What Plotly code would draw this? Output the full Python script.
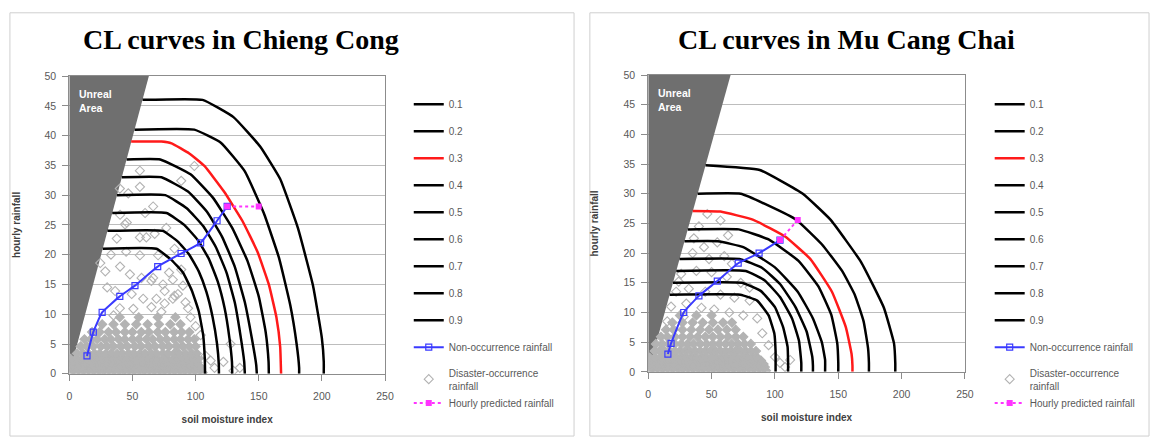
import plotly.graph_objects as go

# ---------------- data ----------------
levels = ["0.1", "0.2", "0.3", "0.4", "0.5", "0.6", "0.7", "0.8", "0.9"]
x_ticks = [0, 50, 100, 150, 200, 250]
y_ticks = [0, 5, 10, 15, 20, 25, 30, 35, 40, 45, 50]

# ---- Chieng Cong: CL curves (soil moisture index, hourly rainfall) ----
cc01_x = [58, 105.5, 130, 151, 167, 181, 193, 200, 201.5, 201.5]
cc01_y = [46, 46, 43.1, 38.2, 32.7, 24.5, 14.8, 6, 2, 0]
cc02_x = [51.7, 99, 120, 139, 154, 166, 175, 180, 182, 182]
cc02_y = [41, 41, 38.8, 34, 27, 19.5, 11.5, 5, 1, 0]
cc03_x = [49, 73, 81, 95, 107, 122.5, 137, 149, 158, 164, 167, 167.7]
cc03_y = [39, 39, 38.7, 37, 34.9, 30.6, 25.7, 20.5, 15, 9.5, 4.5, 0]
cc04_x = [45.4, 72, 96, 114, 129, 141, 150, 155.5, 157.8, 158]
cc04_y = [36, 36, 33.5, 29.5, 24.5, 19, 13, 7, 2, 0]
cc05_x = [41.6, 73, 94, 109, 121, 131, 139, 144.5, 148, 148.5]
cc05_y = [33, 33, 30.6, 27.2, 23, 18, 12, 6, 1.5, 0]
cc06_x = [37.8, 76, 93, 106, 116, 124.5, 131, 135.5, 138.5, 139]
cc06_y = [30, 30, 27.8, 24.8, 21.3, 17, 12, 6.5, 2, 0]
cc07_x = [34, 77, 91, 102, 110.5, 117.5, 123, 126.8, 128.8, 129]
cc07_y = [27, 27, 25, 22.4, 19.3, 15.5, 11, 6, 2, 0]
cc08_x = [30.2, 74, 86, 95, 102.5, 108.5, 113.5, 117, 118.4, 118.5]
cc08_y = [24, 24, 22.2, 20, 17.2, 13.8, 9.5, 5, 1.5, 0]
cc09_x = [26.5, 69, 81, 90, 97, 102.5, 106, 107.3, 107.5]
cc09_y = [21, 21, 19.1, 17, 14, 10.5, 6.5, 2.5, 0]

cc_non_x = [14, 19, 26, 40, 52, 70, 88.5, 104, 117, 125]
cc_non_y = [3, 7, 10.3, 13, 14.8, 18, 20.2, 22, 25.7, 28.1]
cc_pred_x = [125, 150]
cc_pred_y = [28.1, 28.1]

cc_unreal_x = [0, 0, 63, 0]
cc_unreal_y = [0, 50, 50, 0]

cc_dis_x = [45.5, 55.9, 67.6, 55.9, 28.5, 40.2, 48, 57.2, 65, 74.2, 69, 58.5, 49.4,
            75.5, 82, 86, 50.7, 40, 65, 72.9, 36.3, 24.5, 88.6, 55.9, 99, 88.6, 55.9,
            66.4, 40.2, 44.1, 76.8, 37.6, 61, 83.3, 70.3, 66.4, 82, 75.5, 83.3, 46.7,
            40, 33, 45, 92, 96, 100, 104, 60, 30, 35, 79, 90, 94, 112, 127.7, 115,
            122, 130, 135, 108]
cc_dis_y = [25.4, 22.9, 23.5, 19.9, 17.2, 18, 16.7, 16.1, 15.6, 15, 12.6, 12.6, 13.4,
            11.8, 12.6, 13.4, 10.9, 11, 11.2, 10.4, 13.9, 18.6, 17.5, 34.1, 34.9, 32.4,
            31.4, 28.1, 26.7, 25.1, 24.5, 22.7, 22.9, 21, 19.9, 16.1, 15.8, 13.9, 13.1,
            30.3, 31.1, 20, 20.5, 12, 9.5, 8, 6.5, 27, 14.5, 9.8, 17, 14.8, 11, 2.2, 5,
            1, 2, 0.5, 1, 3]
# dense cloud of overlapping disaster points near the origin, read row by row
cc_cloud_row_y = [0.2, 0.8, 1.3, 1.9, 2.5, 3.4, 4.6, 5.8, 7.0, 8.3, 9.5]
cc_cloud_row_x = [
    [1.5, 5, 9.5, 13, 17.5, 21, 25.5, 29, 33.5, 37, 41.5, 45, 49.5, 53, 57.5, 61, 65.5,
     69, 73.5, 77, 81.5, 85, 89.5, 93, 97.5, 101, 105.5],
    [3.5, 8, 12, 16, 20, 24.5, 28, 32, 36, 40.5, 44, 48, 52, 56.5, 60, 64, 68, 72.5, 76,
     80, 84, 88.5, 92, 96, 100, 104],
    [3, 7.5, 11, 15.5, 19, 23.5, 27, 31.5, 35, 39.5, 43, 47.5, 51, 55.5, 59, 63.5, 67,
     71.5, 75, 79.5, 83, 87.5, 91, 95.5, 99, 103],
    [2, 6, 10.5, 14.5, 18, 22.5, 26, 30.5, 34, 38.5, 42, 46.5, 50, 54.5, 58, 62.5, 66,
     70.5, 74, 78.5, 82, 86.5, 90, 94.5, 98, 101.5],
    [1, 5.5, 10, 14, 18.5, 22, 26.5, 30, 34.5, 38, 42.5, 46, 50.5, 54, 58.5, 62, 66.5,
     70, 74.5, 78, 82.5, 86, 90.5, 94, 98.5, 102],
    [6, 11, 15, 20, 24, 29, 33, 38, 42, 47, 51, 56, 60, 65, 69, 74, 78, 83, 87, 92, 97,
     101],
    [9, 14, 19, 25, 30, 35, 41, 46, 52, 57, 63, 68, 74, 79, 85, 90, 95, 100],
    [12, 17, 22, 28, 33, 39, 44, 50, 55, 61, 66, 72, 77, 83, 88, 94, 99],
    [18, 24, 31, 37, 44, 50, 57, 63, 70, 76, 83, 89, 95],
    [26, 35, 44, 53, 62, 71, 80, 88],
    [40, 55, 70, 84],
]

# ---- Mu Cang Chai ----
mc01_x = [45.2, 88, 122, 144, 168, 186, 194, 195, 195]
mc01_y = [34.8, 34, 30, 25.6, 18.5, 10.8, 4.8, 1.5, 0]
mc02_x = [39, 73, 95, 117, 137, 153, 163, 170, 173.5, 174.2, 174.2]
mc02_y = [30, 30, 28, 25.6, 21.5, 17, 13, 8.5, 4, 1.5, 0]
mc03_x = [35.1, 57, 83, 108, 128, 145, 156, 160.5, 161.2, 161.2]
mc03_y = [27.1, 27, 25.6, 22.8, 19, 13.5, 7.5, 3, 1, 0]
mc04_x = [31.2, 71.4, 95, 118.6, 134.3, 144.5, 149.2, 150, 150]
mc04_y = [24, 24, 22.3, 18.7, 14.4, 9.6, 4.8, 1.5, 0]
mc05_x = [28.6, 55, 75, 100, 118, 130, 137, 139.6, 139.6]
mc05_y = [22, 22, 21, 17.6, 13.5, 9, 5, 2, 0]
mc06_x = [24.7, 72, 90, 104, 116, 125, 129.5, 130, 130]
mc06_y = [19, 19, 17.5, 14.8, 11, 6.8, 2.5, 1, 0]
mc07_x = [22.1, 77, 92, 104, 113.5, 119, 120.8, 120.8]
mc07_y = [17, 17, 15.4, 12.6, 9, 5.2, 1.5, 0]
mc08_x = [19.5, 74, 89, 100, 106.5, 110, 110.4, 110.4]
mc08_y = [15, 15, 13.6, 10.9, 7.5, 4.2, 1.5, 0]
mc09_x = [16.9, 72.7, 86, 95, 99.5, 100.5, 100.5]
mc09_y = [13, 13, 12, 9.5, 6.5, 3.5, 0]

mc_non_x = [15.5, 18, 28, 40, 54.5, 71, 87.5, 104]
mc_non_y = [3, 4.8, 10, 12.8, 15.3, 18.3, 20, 22.2]
mc_pred_x = [104, 118]
mc_pred_y = [22.2, 25.6]

mc_unreal_x = [0, 0, 65, 0]
mc_unreal_y = [0, 50, 50, 0]

mc_dis_x = [46.6, 57, 54.5, 40, 63, 35, 48, 60, 26, 38, 50, 62, 73, 22, 32, 45, 57, 68,
            80, 18, 30, 42, 52, 64, 75, 86, 15, 28, 90, 95, 100, 104, 108, 112, 80, 44,
            66, 24, 36]
mc_dis_y = [26.6, 25.5, 21.8, 24.5, 23, 20, 19, 19.5, 16.5, 17, 16.8, 16, 15, 13.5, 14,
            13.5, 13, 12.5, 12, 11, 11.5, 10.8, 10.5, 10, 9.5, 9, 8.5, 9.3, 6.5, 4.5,
            2.5, 1.5, 0.8, 2, 14.2, 21, 18.2, 15.2, 22.5]
mc_cloud_row_y = [0.2, 0.8, 1.3, 1.9, 2.4, 3.5, 4.7, 5.9, 7.1, 8.3, 9.5]
mc_cloud_row_x = [
    [1.5, 5, 9.5, 13, 17.5, 21, 25.5, 29, 33.5, 37, 41.5, 45, 49.5, 53, 57.5, 61, 65.5,
     69, 73.5, 77, 81.5, 85, 89.5, 93],
    [3.5, 8, 12, 16, 20, 24.5, 28, 32, 36, 40.5, 44, 48, 52, 56.5, 60, 64, 68, 72.5, 76,
     80, 84, 88.5, 92],
    [3, 7.5, 11, 15.5, 19, 23.5, 27, 31.5, 35, 39.5, 43, 47.5, 51, 55.5, 59, 63.5, 67,
     71.5, 75, 79.5, 83, 87.5, 91],
    [2, 6, 10.5, 14.5, 18, 22.5, 26, 30.5, 34, 38.5, 42, 46.5, 50, 54.5, 58, 62.5, 66,
     70.5, 74, 78.5, 82, 86.5, 89],
    [1, 5.5, 10, 14, 18.5, 22, 26.5, 30, 34.5, 38, 42.5, 46, 50.5, 54, 58.5, 62, 66.5,
     70, 74.5, 78, 82.5, 86],
    [5, 9, 13, 17, 21, 25, 29, 33, 37, 41, 45, 49, 53, 57, 61, 65, 69, 73, 77, 81, 85],
    [6, 11, 16, 21, 26, 31, 36, 41, 46, 51, 56, 61, 66, 71, 76, 81],
    [10, 15, 21, 27, 33, 39, 45, 51, 57, 63, 69, 75],
    [14, 20, 27, 34, 41, 48, 55, 62, 69],
    [19, 27, 35, 43, 51, 59, 66],
    [25, 38, 50],
]

# ---------------- figure ----------------
W, H = 1161, 444
BLACK = "#000000"
RED = "#ff1a1a"
BLUE = "#3a3aff"
MAGENTA = "#ff33ff"
GRAY_PTS = "#b3b3b3"
UNREAL = "#6f6f6f"
TXT = "#595959"
FONT = "Liberation Sans"

fig = go.Figure()

panels = [
    dict(xa="x", ya="y", legend="legend", legend_b="legend3",
         curves=[(cc01_x, cc01_y), (cc02_x, cc02_y), (cc03_x, cc03_y), (cc04_x, cc04_y),
                 (cc05_x, cc05_y), (cc06_x, cc06_y), (cc07_x, cc07_y), (cc08_x, cc08_y),
                 (cc09_x, cc09_y)],
         non=(cc_non_x, cc_non_y), pred=(cc_pred_x, cc_pred_y),
         unreal=(cc_unreal_x, cc_unreal_y), dis=(cc_dis_x, cc_dis_y),
         cloud=(cc_cloud_row_y, cc_cloud_row_x), tag="cc"),
    dict(xa="x2", ya="y2", legend="legend2", legend_b="legend4",
         curves=[(mc01_x, mc01_y), (mc02_x, mc02_y), (mc03_x, mc03_y), (mc04_x, mc04_y),
                 (mc05_x, mc05_y), (mc06_x, mc06_y), (mc07_x, mc07_y), (mc08_x, mc08_y),
                 (mc09_x, mc09_y)],
         non=(mc_non_x, mc_non_y), pred=(mc_pred_x, mc_pred_y),
         unreal=(mc_unreal_x, mc_unreal_y), dis=(mc_dis_x, mc_dis_y),
         cloud=(mc_cloud_row_y, mc_cloud_row_x), tag="mc"),
]

for p in panels:
    tag = p["tag"]
    # unreal area
    fig.add_trace(go.Scatter(
        x=p["unreal"][0], y=p["unreal"][1], xaxis=p["xa"], yaxis=p["ya"],
        mode="lines", fill="toself", fillcolor=UNREAL, line=dict(width=0, color=UNREAL),
        showlegend=False, hoverinfo="skip"))
    # disaster-occurrence rainfall points (isolated ones first, then the dense cloud)
    dx = list(p["dis"][0])
    dy = list(p["dis"][1])
    sym = ["diamond-open"] * len(dx)
    for ry, rxs in zip(p["cloud"][0], p["cloud"][1]):
        dx += rxs
        dy += [ry] * len(rxs)
        sym += ["diamond"] * len(rxs)
    fig.add_trace(go.Scatter(
        x=dx, y=dy, xaxis=p["xa"], yaxis=p["ya"], mode="markers",
        name="Disaster-occurrence<br>rainfall", legend=p["legend"],
        legendgroup=tag + "dis", legendrank=11,
        marker=dict(symbol=sym, size=7, color=GRAY_PTS,
                    line=dict(width=1.1, color=GRAY_PTS))))
    # CL curves
    for i, (cx, cy) in enumerate(p["curves"]):
        col = RED if levels[i] == "0.3" else BLACK
        fig.add_trace(go.Scatter(
            x=cx, y=cy, xaxis=p["xa"], yaxis=p["ya"], mode="lines",
            name=levels[i], legend=p["legend"], legendgroup=tag + levels[i],
            legendrank=i + 1,
            line=dict(color=col, width=2.5, shape="spline", smoothing=0.35)))
    # non-occurrence rainfall
    fig.add_trace(go.Scatter(
        x=p["non"][0], y=p["non"][1], xaxis=p["xa"], yaxis=p["ya"],
        mode="lines+markers", name="Non-occurrence rainfall", legend=p["legend"],
        legendgroup=tag + "non", legendrank=10,
        line=dict(color=BLUE, width=2, shape="spline", smoothing=0.4),
        marker=dict(symbol="square-open", size=6, color=BLUE, line=dict(width=1.2))))
    # hourly predicted rainfall
    fig.add_trace(go.Scatter(
        x=p["pred"][0], y=p["pred"][1], xaxis=p["xa"], yaxis=p["ya"],
        mode="lines+markers", name="Hourly predicted rainfall", legend=p["legend_b"],
        legendgroup=tag + "pred", legendrank=12,
        line=dict(color=MAGENTA, width=2, dash="dot"),
        marker=dict(symbol="square", size=6, color=MAGENTA)))


def px_x(v):
    return v / W


def px_y(v):
    return 1 - v / H


axis_common = dict(showline=True, linecolor="#8c8c8c", linewidth=1, mirror=True,
                   ticks="outside", ticklen=6, tickcolor="#8c8c8c", zeroline=False,
                   tickfont=dict(family=FONT, size=10.5, color=TXT))
xa_common = dict(axis_common, range=[0, 250], tickvals=x_ticks, showgrid=False,
                 ticklabelstandoff=7,
                 title=dict(text="<b>soil moisture index</b>",
                            font=dict(family=FONT, size=10, color="#404040"), standoff=14))
ya_common = dict(axis_common, range=[0, 50], tickvals=y_ticks, showgrid=True,
                 gridcolor="#bdbdbd", gridwidth=1, ticklabelstandoff=4,
                 title=dict(text="<b>hourly rainfall</b>",
                            font=dict(family=FONT, size=10, color="#404040"), standoff=22))

legend_common = dict(font=dict(family=FONT, size=10, color=TXT), bgcolor="rgba(0,0,0,0)",
                     tracegroupgap=8, itemwidth=30, xanchor="left", yanchor="top",
                     traceorder="grouped")

fig.update_layout(
    width=W, height=H, margin=dict(l=0, r=0, t=0, b=0),
    paper_bgcolor="white", plot_bgcolor="white",
    xaxis=dict(xa_common, domain=[px_x(67), px_x(386)], anchor="y"),
    yaxis=dict(ya_common, domain=[px_y(378), px_y(72)], anchor="x"),
    xaxis2=dict(xa_common, domain=[px_x(652), px_x(972)], anchor="y2"),
    yaxis2=dict(ya_common, domain=[px_y(376), px_y(71)], anchor="x2"),
    legend=dict(legend_common, x=px_x(410), y=px_y(86)),
    legend2=dict(legend_common, x=px_x(997), y=px_y(86)),
    legend3=dict(legend_common, x=px_x(410), y=px_y(393)),
    legend4=dict(legend_common, x=px_x(997), y=px_y(393)),
    showlegend=True,
    shapes=[
        dict(type="rect", xref="paper", yref="paper", x0=px_x(7), x1=px_x(577),
             y0=px_y(442), y1=px_y(7), line=dict(color="#cfcfcf", width=1)),
        dict(type="rect", xref="paper", yref="paper", x0=px_x(593), x1=px_x(1158),
             y0=px_y(442), y1=px_y(7), line=dict(color="#cfcfcf", width=1)),
    ],
    annotations=[
        dict(text="<b>CL curves in Chieng Cong</b>", xref="paper", yref="paper",
             x=px_x(240), y=px_y(34), xanchor="center", yanchor="middle",
             showarrow=False,
             font=dict(family="Liberation Serif", size=28, color="black")),
        dict(text="<b>CL curves in Mu Cang Chai</b>", xref="paper", yref="paper",
             x=px_x(852), y=px_y(34), xanchor="center", yanchor="middle",
             showarrow=False,
             font=dict(family="Liberation Serif", size=28, color="black")),
        dict(text="<b>Unreal<br>Area</b>", xref="x", yref="y", x=6, y=45.8,
             xanchor="left", yanchor="middle", align="left", showarrow=False,
             font=dict(family=FONT, size=10.5, color="white")),
        dict(text="<b>Unreal<br>Area</b>", xref="x2", yref="y2", x=6, y=45.8,
             xanchor="left", yanchor="middle", align="left", showarrow=False,
             font=dict(family=FONT, size=10.5, color="white")),
    ],
)

fig.write_html("out.html", config={"displayModeBar": False},
               post_script="document.body.style.margin='0px';")
